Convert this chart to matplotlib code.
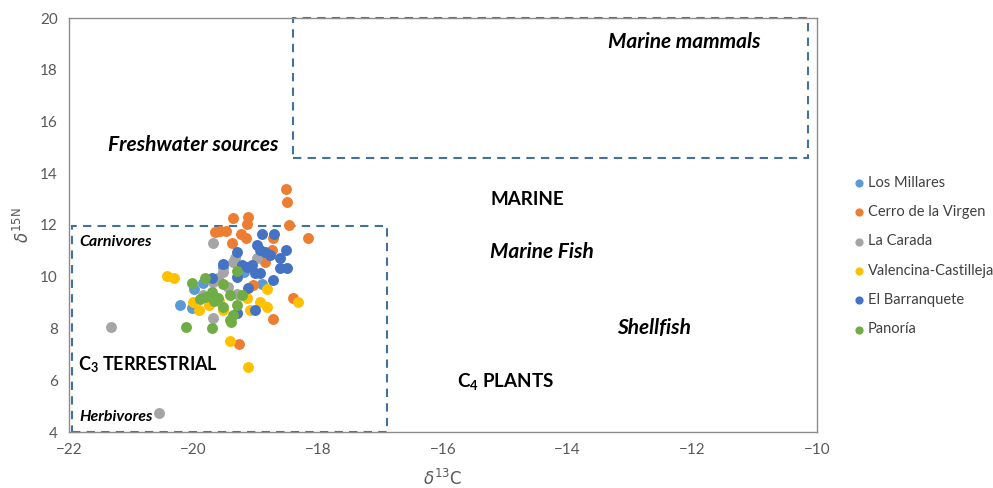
import matplotlib
matplotlib.use("Agg")
import matplotlib.pyplot as plt
from matplotlib.patches import Rectangle

plt.rcParams['font.family'] = ['Lato', 'DejaVu Sans']
plt.rcParams['mathtext.fontset'] = 'custom'
plt.rcParams['mathtext.rm'] = 'Lato'
plt.rcParams['mathtext.bf'] = 'Lato:bold'
plt.rcParams['mathtext.it'] = 'Lato:italic'

# delta13C, delta15N per site
los_millares_x = [-20.22, -20.02, -19.85, -19.53, -18.90, -19.99, -19.20, -18.85]
los_millares_y = [8.91, 8.80, 9.76, 10.38, 9.72, 9.53, 10.20, 10.80]

cerro_x = [-18.52, -18.50, -18.47, -18.17, -19.66, -19.58, -19.48, -19.37, -19.13, -19.14,
           -19.24, -19.16, -19.38, -18.73, -18.74, -18.86, -19.05, -18.41, -18.73, -19.27]
cerro_y = [13.39, 12.89, 12.00, 11.50, 11.73, 11.77, 11.77, 12.27, 12.31, 12.04,
           11.65, 11.50, 11.30, 11.50, 11.03, 10.57, 9.68, 9.18, 8.37, 7.40]

carada_x = [-19.69, -19.34, -19.37, -19.53, -19.61, -19.69, -19.45, -18.98, -19.69, -21.33,
            -20.56, -19.85, -19.30]
carada_y = [11.30, 10.72, 10.57, 10.18, 9.95, 9.80, 9.60, 10.72, 8.41, 8.06,
            4.73, 9.30, 9.35]

valencina_x = [-20.43, -20.32, -20.01, -19.91, -19.53, -19.10, -18.83, -18.82, -18.94, -18.33,
               -19.14, -19.42, -19.13, -19.30, -19.75, -19.60]
valencina_y = [10.03, 9.95, 9.02, 8.72, 8.72, 8.72, 8.85, 9.53, 9.02, 9.02,
               9.18, 7.52, 6.51, 8.60, 8.90, 9.05]

barranquete_x = [-18.90, -18.71, -19.30, -18.98, -18.94, -18.86, -18.78, -18.61, -18.52, -18.50,
                 -18.61, -19.06, -19.14, -19.22, -18.94, -19.02, -18.73, -19.30, -19.71, -19.53,
                 -19.13, -19.02, -19.30]
barranquete_y = [11.65, 11.65, 10.96, 11.23, 11.03, 10.96, 10.84, 10.72, 11.03, 10.34,
                 10.34, 10.45, 10.38, 10.45, 10.14, 10.14, 9.87, 9.99, 9.95, 10.49,
                 9.57, 8.72, 8.60]

panoria_x = [-20.12, -19.71, -19.42, -19.37, -20.03, -19.82, -19.53, -19.30, -19.82, -19.71,
             -19.61, -19.53, -19.42, -19.22, -19.30, -19.90, -19.67, -19.40]
panoria_y = [8.06, 8.02, 8.33, 8.52, 9.76, 9.95, 9.72, 10.22, 9.22, 9.41,
             9.18, 8.83, 9.30, 9.30, 8.91, 9.15, 9.05, 8.25]

series = [
    ("Los Millares", los_millares_x, los_millares_y, "#5B9BD5"),
    ("Cerro de la Virgen", cerro_x, cerro_y, "#ED7D31"),
    ("La Carada", carada_x, carada_y, "#A5A5A5"),
    ("Valencina-Castilleja", valencina_x, valencina_y, "#FFC000"),
    ("El Barranquete", barranquete_x, barranquete_y, "#4472C4"),
    ("Panoría", panoria_x, panoria_y, "#70AD47"),
]

fig = plt.figure(figsize=(9.93, 4.88), dpi=100)
ax = fig.add_axes([69 / 993, 56 / 488, 748 / 993, 414 / 488])

for name, xs, ys, col in series:
    ax.scatter(xs, ys, s=62, color=col, label=name, linewidths=0, zorder=3)

ax.set_xlim(-22, -10)
ax.set_ylim(4, 20)
ax.set_xticks(range(-22, -9, 2))
ax.set_yticks(range(4, 21, 2))
ax.tick_params(length=0, labelsize=11, colors="#595959", pad=8)
for sp in ax.spines.values():
    sp.set_color("#8C8C8C")
    sp.set_linewidth(1.0)

ax.set_xlabel(r"$\delta^{\mathrm{13}}\mathrm{C}$", fontsize=12, color="#595959",
              labelpad=8, math_fontfamily="dejavusans")
ax.set_ylabel(r"$\delta^{\mathrm{15N}}$", fontsize=12, color="#595959",
              labelpad=6, math_fontfamily="dejavusans")

box_col = "#41719C"
ax.add_patch(Rectangle((-18.4, 14.6), 8.25, 5.4, fill=False, edgecolor=box_col,
                       linestyle=(0, (4, 3)), linewidth=1.5, zorder=2, clip_on=False))
ax.add_patch(Rectangle((-21.95, 4.0), 5.05, 7.95, fill=False, edgecolor=box_col,
                       linestyle=(0, (4, 3)), linewidth=1.5, zorder=2, clip_on=False))

bi = dict(fontweight="bold", fontstyle="italic", color="black")
ax.text(-12.13, 19.07, "Marine mammals", fontsize=15, ha="center", va="center", **bi)
ax.text(-20.01, 15.1, "Freshwater sources", fontsize=15, ha="center", va="center", **bi)
ax.text(-14.64, 12.98, "MARINE", fontsize=13.5, ha="center", va="center", fontweight="bold")
ax.text(-14.41, 10.97, "Marine Fish", fontsize=15, ha="center", va="center", **bi)
ax.text(-12.61, 8.02, "Shellfish", fontsize=15, ha="center", va="center", **bi)
ax.text(-15.0, 5.95, r"C$_\mathbf{4}$ PLANTS", fontsize=13.5, ha="center", va="center",
        fontweight="bold")
ax.text(-21.85, 6.6, r"C$_\mathbf{3}$ TERRESTRIAL", fontsize=13, ha="left", va="center",
        fontweight="bold")
ax.text(-21.84, 11.33, "Carnivores", fontsize=11.5, ha="left", va="center", **bi)
ax.text(-21.84, 4.57, "Herbivores", fontsize=11.5, ha="left", va="center", **bi)

leg = ax.legend(loc="upper left", bbox_to_anchor=(846 / 993, 1 - 170 / 488),
                bbox_transform=fig.transFigure, frameon=False, fontsize=10.5,
                labelspacing=1.05, handletextpad=0.1, borderaxespad=0,
                handlelength=1.0, markerscale=0.75)
for t in leg.get_texts():
    t.set_color("#404040")

fig.savefig("out.png", dpi=100)
